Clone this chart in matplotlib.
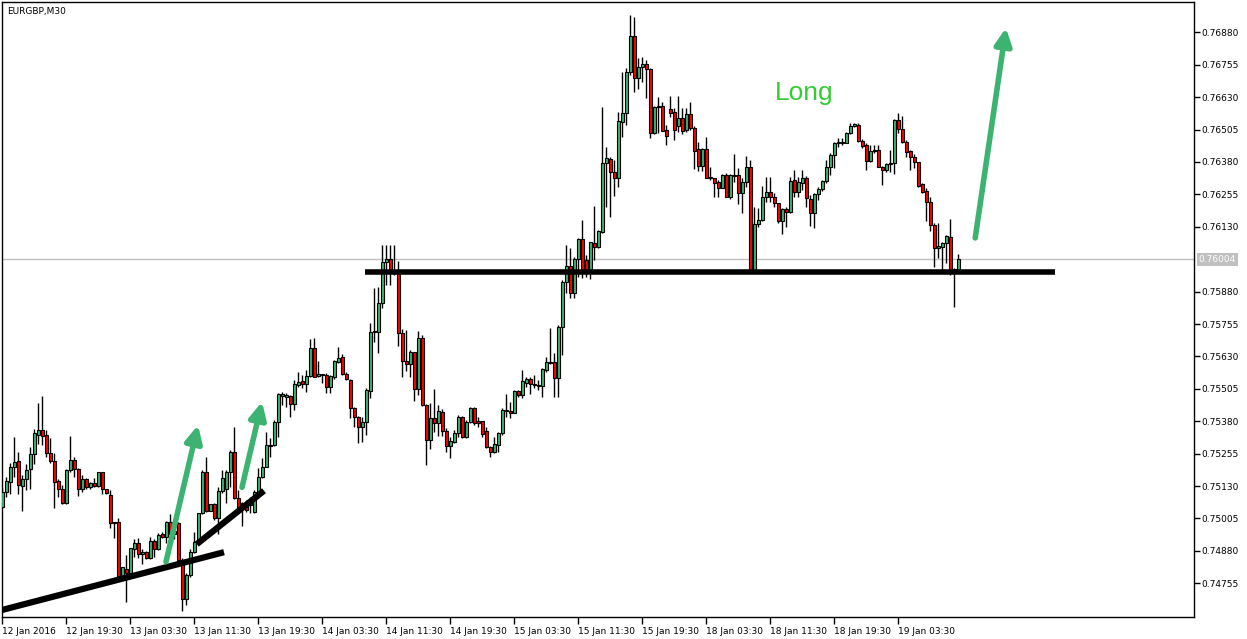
import matplotlib
matplotlib.use("Agg")
import matplotlib.pyplot as plt
import numpy as np

# EURGBP M30 bars
opens = [
    0.75050, 0.75107, 0.75146, 0.75202, 0.75226, 0.75131, 0.75156, 0.75195, 0.75253, 0.75328,
    0.75345, 0.75326, 0.75256, 0.75226, 0.75149, 0.75118, 0.75066, 0.75193, 0.75229, 0.75196,
    0.75117, 0.75157, 0.75125, 0.75140, 0.75131, 0.75183, 0.75117, 0.75094, 0.74990, 0.74990,
    0.74784, 0.74812, 0.74795, 0.74886, 0.74909, 0.74867, 0.74874, 0.74851, 0.74919, 0.74886,
    0.74947, 0.74934, 0.74992, 0.74945, 0.74989, 0.74844, 0.74693, 0.74787, 0.74874, 0.74915,
    0.75025, 0.75185, 0.75034, 0.75060, 0.75008, 0.75111, 0.75120, 0.75185, 0.75261, 0.75085,
    0.75044, 0.75057, 0.75057, 0.75029, 0.75107, 0.75166, 0.75204, 0.75285, 0.75288, 0.75378,
    0.75478, 0.75472, 0.75477, 0.75445, 0.75519, 0.75535, 0.75523, 0.75554, 0.75661, 0.75554,
    0.75557, 0.75558, 0.75511, 0.75549, 0.75610, 0.75628, 0.75562, 0.75539, 0.75430, 0.75395,
    0.75359, 0.75376, 0.75498, 0.75725, 0.75725, 0.75835, 0.75993, 0.76005, 0.75957, 0.75960,
    0.75721, 0.75613, 0.75599, 0.75646, 0.75503, 0.75700, 0.75443, 0.75307, 0.75391, 0.75372,
    0.75416, 0.75343, 0.75284, 0.75301, 0.75333, 0.75395, 0.75318, 0.75377, 0.75430, 0.75380,
    0.75380, 0.75341, 0.75279, 0.75260, 0.75290, 0.75333, 0.75420, 0.75419, 0.75413, 0.75497,
    0.75481, 0.75529, 0.75543, 0.75524, 0.75516, 0.75516, 0.75577, 0.75603, 0.75607, 0.75546,
    0.75742, 0.75916, 0.75979, 0.75876, 0.76007, 0.76082, 0.76002, 0.75957, 0.76069, 0.76051,
    0.76111, 0.76375, 0.76390, 0.76343, 0.76317, 0.76536, 0.76568, 0.76727, 0.76866, 0.76705,
    0.76748, 0.76757, 0.76738, 0.76491, 0.76591, 0.76596, 0.76503, 0.76583, 0.76572, 0.76520,
    0.76548, 0.76503, 0.76565, 0.76510, 0.76429, 0.76365, 0.76429, 0.76319, 0.76317, 0.76302,
    0.76281, 0.76330, 0.76244, 0.76330, 0.76330, 0.76259, 0.76302, 0.76360, 0.75957, 0.76140,
    0.76156, 0.76244, 0.76263, 0.76246, 0.76221, 0.76153, 0.76200, 0.76188, 0.76311, 0.76265,
    0.76298, 0.76317, 0.76237, 0.76182, 0.76255, 0.76275, 0.76307, 0.76362, 0.76407, 0.76452,
    0.76452, 0.76455, 0.76491, 0.76519, 0.76523, 0.76462, 0.76446, 0.76385, 0.76422, 0.76426,
    0.76362, 0.76349, 0.76372, 0.76375, 0.76542, 0.76506, 0.76458, 0.76422, 0.76398, 0.76379,
    0.76294, 0.76268, 0.76224, 0.76137, 0.76047, 0.76053, 0.76066, 0.76092, 0.75966, 0.75957,
]
highs = [
    0.75122, 0.75164, 0.75220, 0.75320, 0.75262, 0.75173, 0.75217, 0.75280, 0.75349, 0.75449,
    0.75477, 0.75346, 0.75316, 0.75256, 0.75156, 0.75134, 0.75195, 0.75323, 0.75243, 0.75200,
    0.75173, 0.75160, 0.75145, 0.75160, 0.75185, 0.75185, 0.75117, 0.75114, 0.74990, 0.75006,
    0.74819, 0.74864, 0.74892, 0.74925, 0.74929, 0.74886, 0.74878, 0.74932, 0.74925, 0.74948,
    0.74951, 0.74995, 0.75022, 0.74960, 0.74992, 0.74851, 0.74796, 0.74886, 0.74954, 0.75027,
    0.75192, 0.75243, 0.75062, 0.75064, 0.75127, 0.75192, 0.75192, 0.75269, 0.75356, 0.75114,
    0.75069, 0.75076, 0.75089, 0.75114, 0.75198, 0.75237, 0.75339, 0.75314, 0.75385, 0.75490,
    0.75494, 0.75490, 0.75481, 0.75539, 0.75571, 0.75558, 0.75577, 0.75696, 0.75700, 0.75612,
    0.75561, 0.75565, 0.75558, 0.75616, 0.75667, 0.75639, 0.75571, 0.75542, 0.75436, 0.75400,
    0.75397, 0.75507, 0.75758, 0.75893, 0.75899, 0.76060, 0.76060, 0.76060, 0.76060, 0.75999,
    0.75734, 0.75732, 0.75655, 0.75648, 0.75729, 0.75712, 0.75447, 0.75449, 0.75503, 0.75443,
    0.75429, 0.75353, 0.75320, 0.75346, 0.75404, 0.75400, 0.75385, 0.75436, 0.75436, 0.75397,
    0.75382, 0.75359, 0.75284, 0.75320, 0.75339, 0.75430, 0.75485, 0.75455, 0.75500, 0.75500,
    0.75577, 0.75552, 0.75552, 0.75558, 0.75539, 0.75584, 0.75629, 0.75739, 0.75642, 0.75751,
    0.75925, 0.76060, 0.76047, 0.76015, 0.76086, 0.76156, 0.76021, 0.76072, 0.76210, 0.76118,
    0.76593, 0.76439, 0.76400, 0.76388, 0.76574, 0.76728, 0.76741, 0.76947, 0.76938, 0.76780,
    0.76786, 0.76774, 0.76742, 0.76596, 0.76630, 0.76613, 0.76523, 0.76635, 0.76587, 0.76635,
    0.76587, 0.76587, 0.76610, 0.76519, 0.76458, 0.76433, 0.76475, 0.76360, 0.76319, 0.76311,
    0.76334, 0.76336, 0.76333, 0.76411, 0.76356, 0.76317, 0.76403, 0.76388, 0.76207, 0.76201,
    0.76287, 0.76321, 0.76321, 0.76259, 0.76223, 0.76204, 0.76207, 0.76323, 0.76349, 0.76323,
    0.76349, 0.76326, 0.76253, 0.76259, 0.76282, 0.76311, 0.76388, 0.76414, 0.76458, 0.76471,
    0.76473, 0.76497, 0.76529, 0.76532, 0.76529, 0.76468, 0.76452, 0.76446, 0.76446, 0.76446,
    0.76365, 0.76377, 0.76426, 0.76545, 0.76570, 0.76558, 0.76465, 0.76426, 0.76410, 0.76381,
    0.76298, 0.76278, 0.76246, 0.76143, 0.76146, 0.76072, 0.76098, 0.76159, 0.75970, 0.76025,
]
lows = [
    0.75045, 0.75086, 0.75099, 0.75166, 0.75099, 0.75034, 0.75114, 0.75117, 0.75215, 0.75291,
    0.75288, 0.75243, 0.75220, 0.75044, 0.75086, 0.75060, 0.75060, 0.75185, 0.75166, 0.75091,
    0.75107, 0.75117, 0.75120, 0.75125, 0.75125, 0.75099, 0.75100, 0.74970, 0.74929, 0.74784,
    0.74767, 0.74681, 0.74793, 0.74857, 0.74851, 0.74828, 0.74848, 0.74847, 0.74857, 0.74883,
    0.74930, 0.74909, 0.74934, 0.74925, 0.74832, 0.74649, 0.74671, 0.74780, 0.74870, 0.74909,
    0.75022, 0.75030, 0.75032, 0.74999, 0.74945, 0.75102, 0.75063, 0.75127, 0.75082, 0.75031,
    0.74976, 0.75031, 0.75025, 0.75025, 0.75099, 0.75160, 0.75202, 0.75243, 0.75284, 0.75320,
    0.75443, 0.75436, 0.75395, 0.75423, 0.75513, 0.75507, 0.75494, 0.75552, 0.75549, 0.75552,
    0.75528, 0.75490, 0.75490, 0.75542, 0.75603, 0.75558, 0.75539, 0.75391, 0.75359, 0.75295,
    0.75301, 0.75327, 0.75468, 0.75687, 0.75644, 0.75818, 0.75905, 0.75905, 0.75944, 0.75670,
    0.75549, 0.75575, 0.75549, 0.75459, 0.75481, 0.75440, 0.75211, 0.75272, 0.75340, 0.75323,
    0.75323, 0.75260, 0.75237, 0.75295, 0.75320, 0.75314, 0.75314, 0.75372, 0.75365, 0.75359,
    0.75320, 0.75277, 0.75243, 0.75256, 0.75262, 0.75327, 0.75397, 0.75391, 0.75410, 0.75475,
    0.75468, 0.75513, 0.75485, 0.75507, 0.75500, 0.75472, 0.75571, 0.75601, 0.75475, 0.75475,
    0.75635, 0.75873, 0.75856, 0.75856, 0.75937, 0.75934, 0.75937, 0.75928, 0.76002, 0.76047,
    0.76105, 0.76208, 0.76166, 0.76250, 0.76285, 0.76478, 0.76523, 0.76716, 0.76651, 0.76660,
    0.76690, 0.76626, 0.76471, 0.76489, 0.76491, 0.76499, 0.76446, 0.76552, 0.76465, 0.76497,
    0.76487, 0.76497, 0.76503, 0.76352, 0.76346, 0.76346, 0.76317, 0.76311, 0.76244, 0.76244,
    0.76279, 0.76244, 0.76236, 0.76304, 0.76217, 0.76182, 0.76282, 0.75950, 0.75950, 0.76131,
    0.76152, 0.76227, 0.76227, 0.76208, 0.76146, 0.76102, 0.76130, 0.76184, 0.76246, 0.76246,
    0.76272, 0.76208, 0.76133, 0.76127, 0.76233, 0.76269, 0.76298, 0.76330, 0.76356, 0.76439,
    0.76446, 0.76452, 0.76487, 0.76514, 0.76458, 0.76433, 0.76349, 0.76381, 0.76413, 0.76360,
    0.76291, 0.76343, 0.76343, 0.76334, 0.76491, 0.76454, 0.76400, 0.76349, 0.76356, 0.76282,
    0.76261, 0.76153, 0.76115, 0.75976, 0.76008, 0.75963, 0.75989, 0.75944, 0.75822, 0.75957,
]
closes = [
    0.75107, 0.75150, 0.75202, 0.75222, 0.75136, 0.75156, 0.75192, 0.75253, 0.75333, 0.75345,
    0.75324, 0.75256, 0.75226, 0.75146, 0.75118, 0.75066, 0.75192, 0.75229, 0.75196, 0.75117,
    0.75157, 0.75127, 0.75140, 0.75131, 0.75183, 0.75117, 0.75102, 0.74986, 0.74986, 0.74784,
    0.74816, 0.74795, 0.74890, 0.74909, 0.74867, 0.74874, 0.74851, 0.74919, 0.74886, 0.74943,
    0.74934, 0.74992, 0.74947, 0.74955, 0.74844, 0.74693, 0.74787, 0.74874, 0.74913, 0.75025,
    0.75185, 0.75034, 0.75060, 0.75008, 0.75111, 0.75160, 0.75185, 0.75261, 0.75085, 0.75044,
    0.75063, 0.75037, 0.75069, 0.75107, 0.75166, 0.75202, 0.75288, 0.75288, 0.75378, 0.75485,
    0.75485, 0.75481, 0.75445, 0.75522, 0.75530, 0.75522, 0.75554, 0.75661, 0.75552, 0.75562,
    0.75561, 0.75511, 0.75554, 0.75612, 0.75625, 0.75561, 0.75542, 0.75430, 0.75395, 0.75359,
    0.75376, 0.75500, 0.75723, 0.75729, 0.75835, 0.75995, 0.76005, 0.75957, 0.75960, 0.75721,
    0.75613, 0.75599, 0.75648, 0.75503, 0.75700, 0.75443, 0.75307, 0.75391, 0.75372, 0.75420,
    0.75343, 0.75284, 0.75305, 0.75333, 0.75395, 0.75318, 0.75377, 0.75430, 0.75374, 0.75374,
    0.75329, 0.75279, 0.75260, 0.75292, 0.75333, 0.75423, 0.75423, 0.75413, 0.75497, 0.75481,
    0.75534, 0.75542, 0.75524, 0.75519, 0.75521, 0.75580, 0.75607, 0.75607, 0.75546, 0.75742,
    0.75916, 0.75979, 0.75873, 0.76005, 0.76082, 0.75957, 0.75957, 0.76070, 0.76051, 0.76114,
    0.76375, 0.76394, 0.76343, 0.76317, 0.76538, 0.76568, 0.76727, 0.76866, 0.76703, 0.76748,
    0.76757, 0.76738, 0.76491, 0.76591, 0.76596, 0.76501, 0.76481, 0.76568, 0.76503, 0.76548,
    0.76498, 0.76565, 0.76510, 0.76424, 0.76365, 0.76429, 0.76319, 0.76321, 0.76300, 0.76281,
    0.76330, 0.76246, 0.76330, 0.76326, 0.76259, 0.76302, 0.76360, 0.75956, 0.76140, 0.76156,
    0.76246, 0.76263, 0.76244, 0.76221, 0.76153, 0.76197, 0.76188, 0.76308, 0.76265, 0.76302,
    0.76317, 0.76240, 0.76184, 0.76255, 0.76275, 0.76307, 0.76362, 0.76407, 0.76455, 0.76456,
    0.76456, 0.76491, 0.76519, 0.76527, 0.76462, 0.76443, 0.76385, 0.76422, 0.76426, 0.76362,
    0.76349, 0.76372, 0.76375, 0.76542, 0.76506, 0.76458, 0.76420, 0.76398, 0.76379, 0.76289,
    0.76265, 0.76224, 0.76137, 0.76047, 0.76056, 0.76066, 0.76095, 0.75963, 0.75957, 0.76004,
]

time_labels = ["12 Jan 2016", "12 Jan 19:30", "13 Jan 03:30", "13 Jan 11:30", "13 Jan 19:30",
               "14 Jan 03:30", "14 Jan 11:30", "14 Jan 19:30", "15 Jan 03:30", "15 Jan 11:30",
               "15 Jan 19:30", "18 Jan 03:30", "18 Jan 11:30", "18 Jan 19:30", "19 Jan 03:30"]
price_ticks = [0.74755, 0.74880, 0.75005, 0.75130, 0.75255, 0.75380, 0.75505, 0.75630,
               0.75755, 0.75880, 0.76130, 0.76255, 0.76380, 0.76505, 0.76630, 0.76755, 0.76880]
last_price = 0.76004

# drawn objects (bar index, price)
support = ([90.7, 263.2], [0.75956, 0.75956])
trend_1 = ([-0.1, 55.4], [0.74652, 0.74875])
trend_2 = ([48.6, 65.4], [0.74906, 0.75112])
arrows = [((40.9, 0.74838), (48.9, 0.75365)),
          ((59.9, 0.75125), (64.9, 0.75455)),
          ((243.2, 0.76087), (250.9, 0.76897))]
long_pos = (200.4, 0.76646)

BULL = "#3cb371"
BEAR = "#ff0000"
ARROW = "#3cb371"

fig = plt.figure(figsize=(12.47, 6.39), dpi=100)
ax = fig.add_axes([2 / 1247, 22 / 639, 1192 / 1247, 615 / 639])

o = np.array(opens)
h = np.array(highs)
l = np.array(lows)
c = np.array(closes)
x = np.arange(len(c))

# wicks then bodies
ax.vlines(x, l, h, color="black", linewidth=1.0, zorder=2)
body_h = np.maximum(np.abs(c - o), 0.000006)
colors = [BULL if cc >= oo else BEAR for oo, cc in zip(o, c)]
ax.bar(x, body_h, bottom=np.minimum(o, c), width=0.62, color=colors,
       edgecolor="black", linewidth=0.8, zorder=3)

# current price line
ax.axhline(last_price, color="#c0c0c0", linewidth=1.0, zorder=1)

# hand-drawn lines and arrows
ax.plot(*support, color="black", linewidth=4, solid_capstyle="butt", zorder=4)
ax.plot(*trend_1, color="black", linewidth=4.5, solid_capstyle="butt", zorder=4)
ax.plot(*trend_2, color="black", linewidth=4.5, solid_capstyle="butt", zorder=4)
for tail, head in arrows:
    ax.annotate("", xy=head, xytext=tail,
                arrowprops=dict(arrowstyle="-|>,head_length=1.0,head_width=0.5",
                                color=ARROW, linewidth=4, shrinkA=0, shrinkB=0),
                zorder=5)
ax.text(long_pos[0], long_pos[1], "Long", color="#32cd32", fontsize=19,
        family="Liberation Sans", ha="center", va="center", zorder=6)

ax.text(0.004, 0.992, "EURGBP,M30", transform=ax.transAxes, fontsize=6.5,
        ha="left", va="top")

ax.set_xlim(-0.1, 297.9)
ax.set_ylim(0.74625, 0.76997)

ax.yaxis.tick_right()
ax.set_yticks(price_ticks)
ax.set_yticklabels([f"{p:.5f}" for p in price_ticks])
ax.tick_params(axis="y", direction="out", length=4, width=1, pad=1, labelsize=6.5)

ax.set_xticks(np.arange(len(time_labels)) * 16)
ax.set_xticklabels(time_labels, ha="left")
ax.tick_params(axis="x", direction="out", length=5, width=1, pad=2, labelsize=6.5)

ax.text(1.004, last_price, f"{last_price:.5f}", transform=ax.get_yaxis_transform(),
        color="white", fontsize=6.5, ha="left", va="center",
        bbox=dict(facecolor="#c0c0c0", edgecolor="none", pad=1.5))

for s in ax.spines.values():
    s.set_linewidth(1)

fig.savefig("out.png", dpi=100)
